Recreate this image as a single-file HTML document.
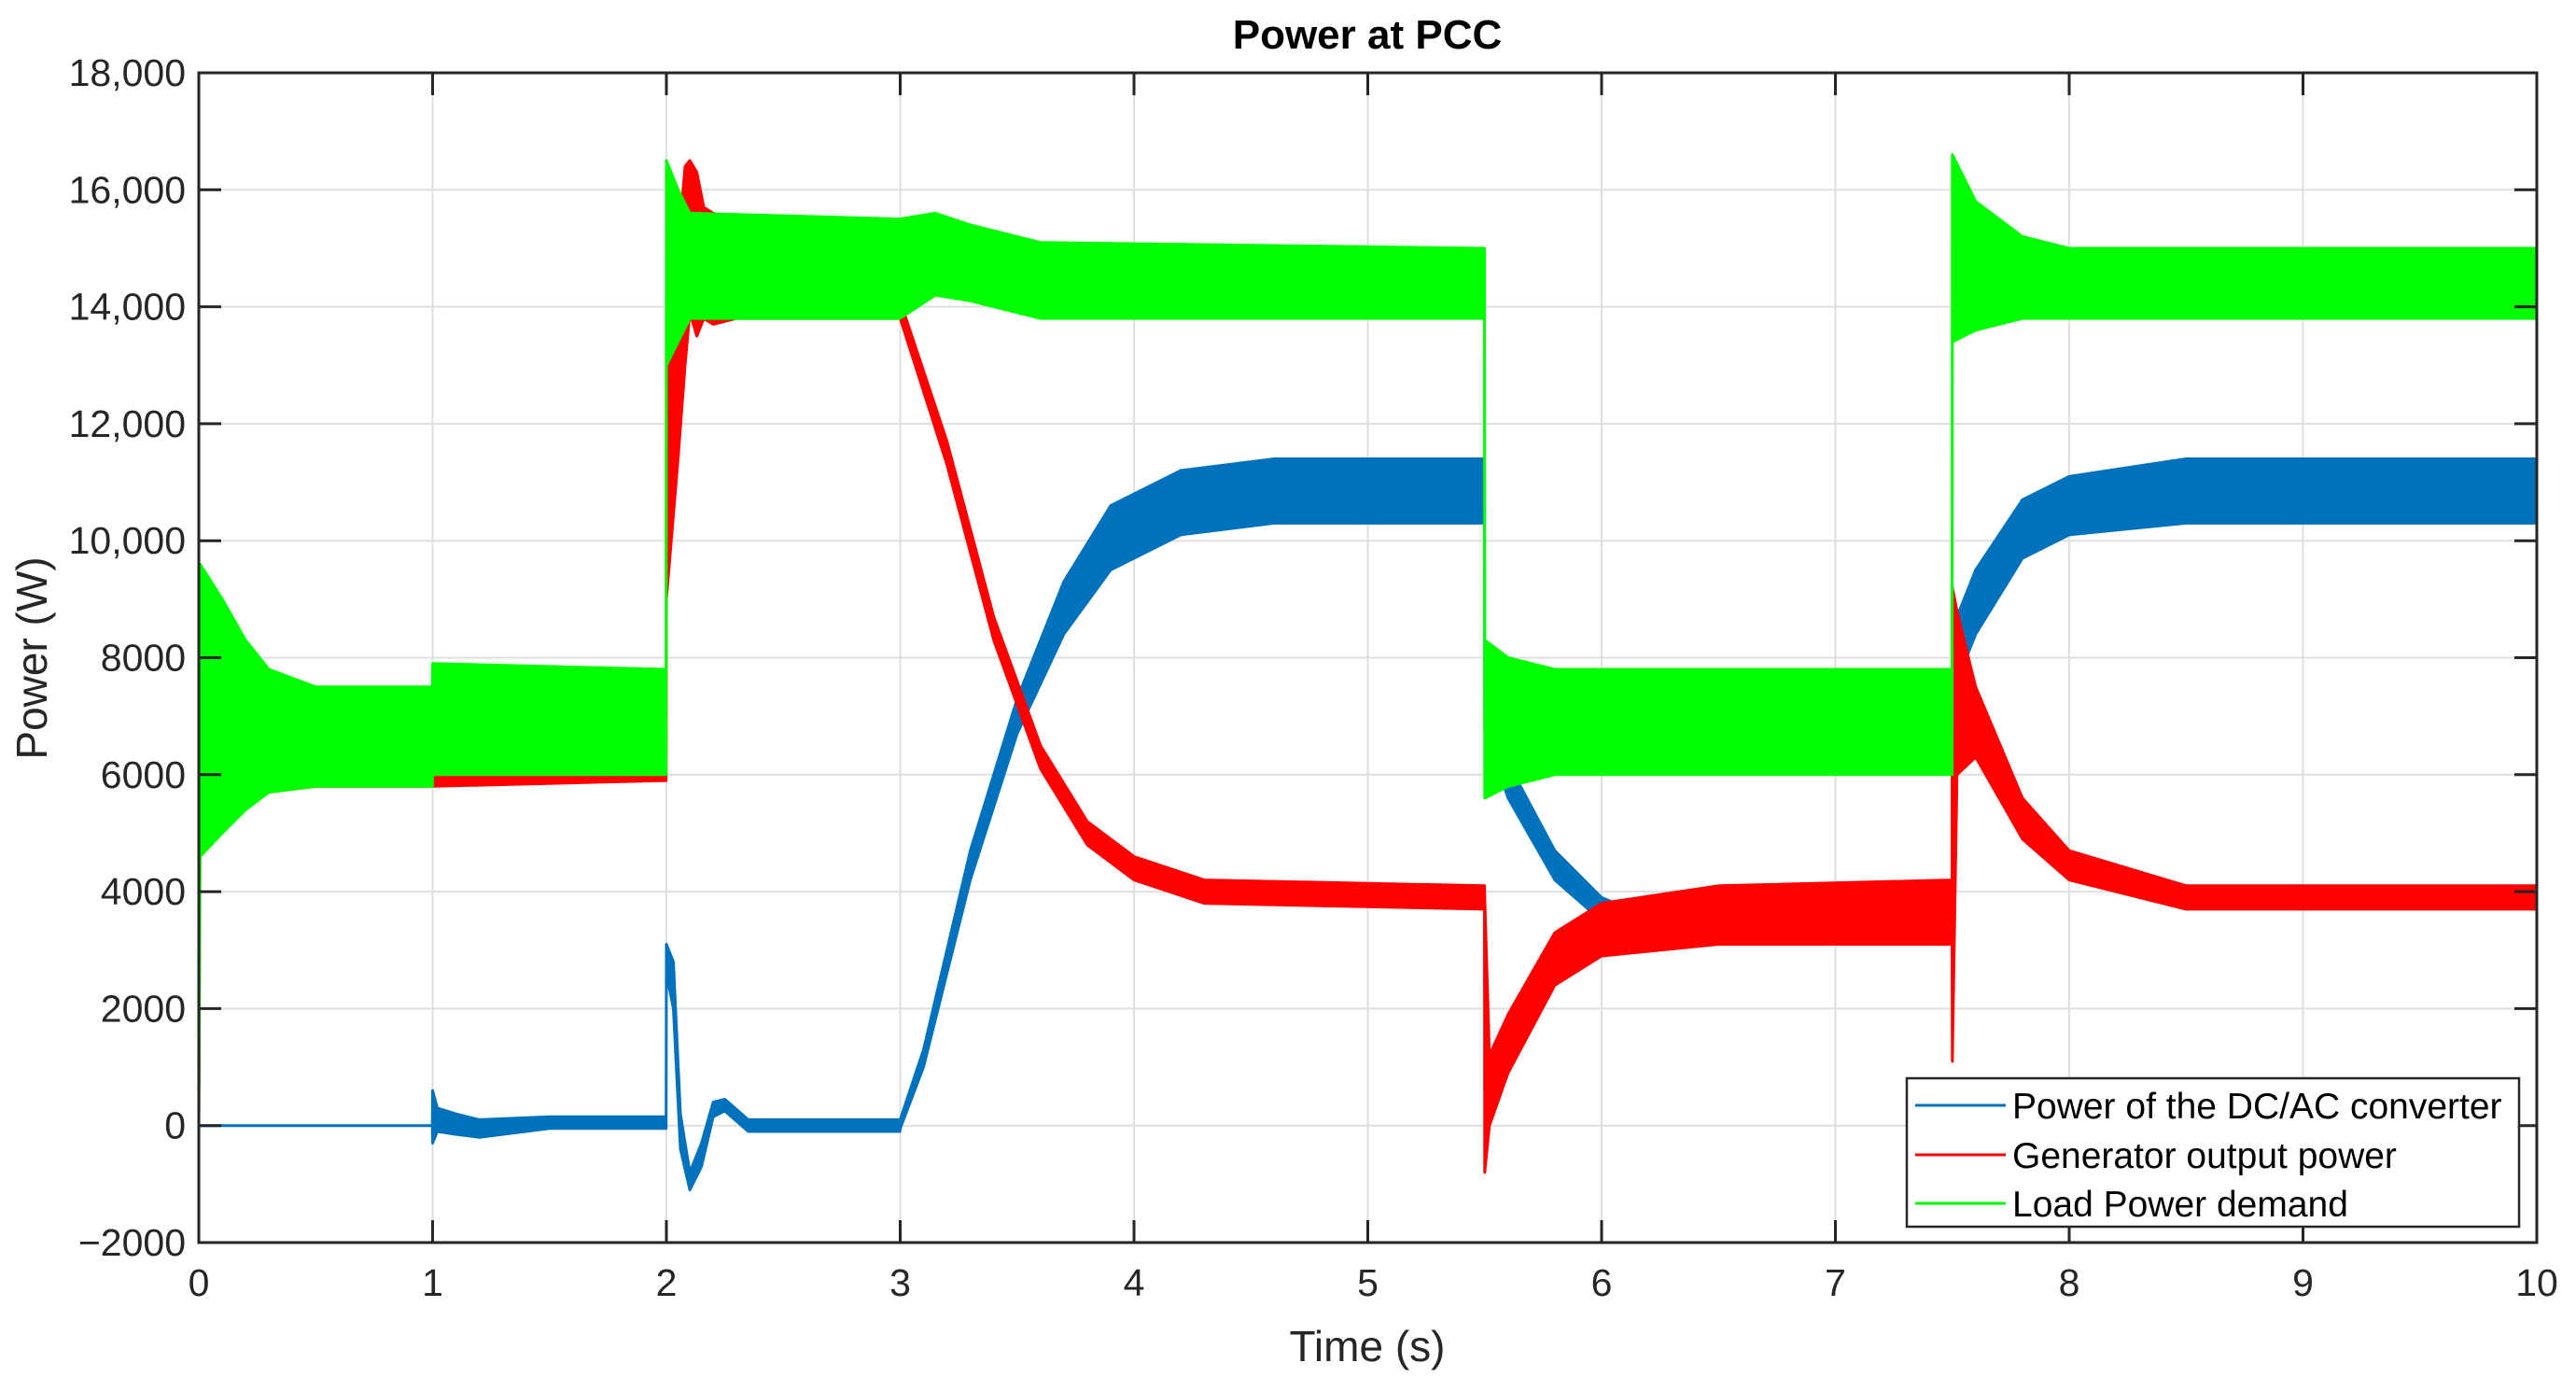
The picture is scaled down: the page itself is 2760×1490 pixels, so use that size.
<!DOCTYPE html>
<html><head><meta charset="utf-8"><style>
html,body{margin:0;padding:0;background:#fff}
svg{display:block;font-family:"Liberation Sans",Arial,sans-serif}
</style></head><body>
<svg id="chart" width="2760" height="1490" viewBox="0 0 2760 1490">
<g id="grid"></g>
<g id="series"></g>
<rect x="213" y="78" width="2505" height="1253" fill="none" stroke="#262626" stroke-width="3"/>
<g id="ticks"></g>
<text x="1465" y="52" text-anchor="middle" font-size="44" font-weight="bold" fill="#000">Power at PCC</text>
<text x="1465" y="1458" text-anchor="middle" font-size="46" fill="#262626">Time (s)</text>
<text transform="translate(50,705) rotate(-90)" text-anchor="middle" font-size="46" fill="#262626">Power (W)</text>
<g>
<rect x="2043" y="1155" width="656" height="159" fill="#fff" stroke="#262626" stroke-width="2.5"/>
<line x1="2052" y1="1184" x2="2149" y2="1184" stroke="#0072BD" stroke-width="3"/>
<text x="2156" y="1198" font-size="39" fill="#000">Power of the DC/AC converter</text>
<line x1="2052" y1="1237" x2="2149" y2="1237" stroke="#FF0000" stroke-width="3"/>
<text x="2156" y="1251" font-size="39" fill="#000">Generator output power</text>
<line x1="2052" y1="1289" x2="2149" y2="1289" stroke="#00FF00" stroke-width="3"/>
<text x="2156" y="1303" font-size="39" fill="#000">Load Power demand</text>
</g>
</svg>
<script>
const xTicks=[0,1,2,3,4,5,6,7,8,9,10];
const xTickLabels=["0","1","2","3","4","5","6","7","8","9","10"];
const yTicks=[-2000,0,2000,4000,6000,8000,10000,12000,14000,16000,18000];
const yTickLabels=["\u22122000","0","2000","4000","6000","8000","10,000","12,000","14,000","16,000","18,000"];

const blueT =[0,0.999,1.0,1.02,1.1,1.2,1.5,1.999,2.0,2.03,2.06,2.1,2.15,2.2,2.25,2.35,2.5,2.999,3.0,3.1,3.3,3.5,3.7,3.9,4.2,4.6,5.499,5.5,5.6,5.8,6.0,6.3,7.0,7.499,7.5,7.6,7.8,8.0,8.5,10];
const blueLo=[0,0,-300,-100,-150,-200,-50,-50,2600,2000,-400,-1100,-700,150,250,-100,-100,-100,-50,1000,4200,6700,8400,9500,10100,10300,10300,6800,5600,4200,3500,3150,3100,3100,7400,8400,9700,10100,10300,10300];
const blueHi=[0,0,600,300,200,100,150,150,3100,2800,200,-800,-300,400,450,100,100,100,100,1300,4700,7300,9300,10600,11200,11400,11400,7500,6200,4700,3900,3400,3250,3250,8500,9500,10700,11100,11400,11400];

const redT =[0,0.005,0.1,0.3,0.5,0.999,1.0,1.999,2.0,2.05,2.08,2.1,2.13,2.16,2.2,2.3,2.999,3.0,3.2,3.4,3.6,3.8,4.0,4.3,5.499,5.5,5.52,5.6,5.8,6.0,6.5,7.499,7.5,7.52,7.6,7.8,8.0,8.5,10];
const redLo=[0,5000,5200,5700,5800,5800,5800,5900,9000,11400,13000,13900,13500,13800,13700,13800,13800,13800,11300,8300,6100,4800,4200,3800,3700,-800,0,900,2400,2900,3100,3100,1100,6000,6300,4900,4200,3700,3700];
const redHi=[0,9000,8600,7600,7400,7400,6100,6100,13000,15000,16400,16500,16300,15700,15600,15500,15500,14100,11700,8700,6500,5200,4600,4200,4100,3900,1200,1900,3300,3800,4100,4200,9200,8800,7500,5600,4700,4100,4100];

const greenT =[0,0.005,0.1,0.2,0.3,0.5,0.999,1.0,1.999,2.0,2.05,2.1,2.999,3.15,3.3,3.6,5.499,5.5,5.6,5.8,7.499,7.5,7.6,7.8,8.0,10];
const greenLo=[0,4600,5000,5400,5700,5800,5800,6000,6000,13000,13400,13800,13800,14200,14100,13800,13800,5600,5800,6000,6000,13400,13600,13800,13800,13800];
const greenHi=[0,9600,9000,8300,7800,7500,7500,7900,7800,16500,16000,15600,15500,15600,15400,15100,15000,8300,8000,7800,7800,16600,15800,15200,15000,15000];

const X0=213,X1=2718,Y0=1331,Y1=78;
function xs(t){return X0+(t-0)/(10-0)*(X1-X0);}
function ys(v){return Y0-(v-(-2000))/(18000-(-2000))*(Y0-Y1);}
const NS="http://www.w3.org/2000/svg";
const grid=document.getElementById('grid'),ticks=document.getElementById('ticks'),series=document.getElementById('series');

xTicks.forEach((t,i)=>{
  const g=document.createElementNS(NS,'line');
  g.setAttribute('x1',xs(t));g.setAttribute('x2',xs(t));g.setAttribute('y1',Y1);g.setAttribute('y2',Y0);
  g.setAttribute('stroke','#dfdfdf');g.setAttribute('stroke-width','2');
  
  
  grid.appendChild(g);
  [[Y0,Y0-24],[Y1,Y1+24]].forEach(p=>{
    const k=document.createElementNS(NS,'line');
    k.setAttribute('x1',xs(t));k.setAttribute('x2',xs(t));k.setAttribute('y1',p[0]);k.setAttribute('y2',p[1]);
    k.setAttribute('stroke','#262626');k.setAttribute('stroke-width','3');
    
    
    ticks.appendChild(k);
  });
  const l=document.createElementNS(NS,'text');
  l.setAttribute('x',xs(t));l.setAttribute('y',Y0+57);l.setAttribute('text-anchor','middle');
  l.setAttribute('font-size','41');l.setAttribute('fill','#262626');
  l.textContent=xTickLabels[i];
  
  
  ticks.appendChild(l);
});
yTicks.forEach((v,i)=>{
  const g=document.createElementNS(NS,'line');
  g.setAttribute('x1',X0);g.setAttribute('x2',X1);g.setAttribute('y1',ys(v));g.setAttribute('y2',ys(v));
  g.setAttribute('stroke','#dfdfdf');g.setAttribute('stroke-width','2');
  
  
  grid.appendChild(g);
  [[X0,X0+24],[X1,X1-24]].forEach(p=>{
    const k=document.createElementNS(NS,'line');
    k.setAttribute('x1',p[0]);k.setAttribute('x2',p[1]);k.setAttribute('y1',ys(v));k.setAttribute('y2',ys(v));
    k.setAttribute('stroke','#262626');k.setAttribute('stroke-width','3');
    
    
    ticks.appendChild(k);
  });
  const l=document.createElementNS(NS,'text');
  l.setAttribute('x',X0-14);l.setAttribute('y',ys(v)+14);l.setAttribute('text-anchor','end');
  l.setAttribute('font-size','41');l.setAttribute('fill','#262626');
  l.textContent=yTickLabels[i];
  
  
  ticks.appendChild(l);
});

function band(T,lo,hi,color,name){
  let d='M'+T.map((t,i)=>xs(t).toFixed(1)+','+ys(hi[i]).toFixed(1)).join('L');
  for(let i=T.length-1;i>=0;i--) d+='L'+xs(T[i]).toFixed(1)+','+ys(lo[i]).toFixed(1);
  d+='Z';
  const p=document.createElementNS(NS,'path');
  p.setAttribute('d',d);p.setAttribute('fill',color);p.setAttribute('stroke',color);
  p.setAttribute('stroke-width','3');p.setAttribute('stroke-linejoin','round');
  
  
  series.appendChild(p);
}
band(blueT,blueLo,blueHi,'#0072BD','series-dcac-converter-power');
band(redT,redLo,redHi,'#FF0000','series-generator-output-power');
band(greenT,greenLo,greenHi,'#00FF00','series-load-power-demand');
</script>
</body></html>
